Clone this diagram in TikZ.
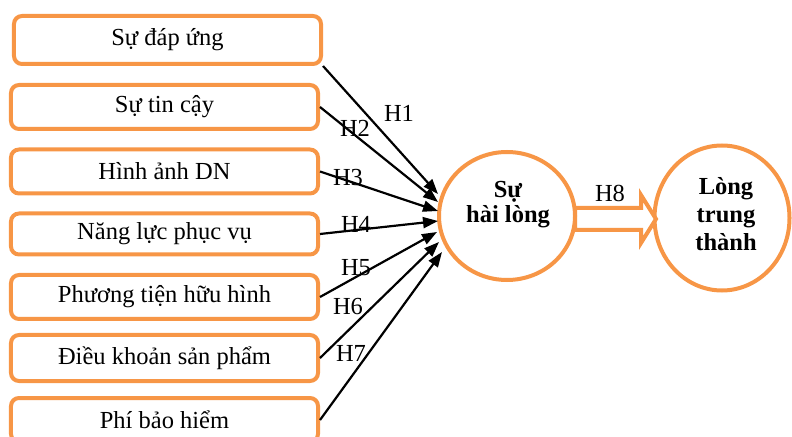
\documentclass[tikz,border=0pt]{standalone}
\usepackage{fontspec}
\setmainfont{Liberation Serif}
\usetikzlibrary{arrows.meta,shapes.geometric,calc}
\definecolor{boxorange}{HTML}{F79646}
\begin{document}
\begin{tikzpicture}[x=1bp,y=-1bp,
  factor/.style={draw=boxorange,line width=4bp,rounded corners=8bp,fill=white,
    minimum width=307bp,minimum height=44bp,inner sep=0pt,
    font=\fontsize{24.5bp}{28bp}\selectfont},
  hyp/.style={inner sep=0pt,font=\fontsize{24.5bp}{28bp}\selectfont},
  bubble/.style={draw=boxorange,line width=4bp,ellipse,inner sep=0pt},
  bubbletext/.style={inner sep=0pt,align=center,font=\fontsize{24.5bp}{#1}\selectfont\bfseries},
  link/.style={line width=2.2bp,-{Triangle[length=15bp,width=11bp]}}]
\useasboundingbox (0,0) rectangle (792,437);
% factor boxes
\node[factor,minimum width=307bp,minimum height=48bp] (b1) at (167.5,40) {Sự đáp ứng};
\node[factor] (b2) at (164.5,107) {Sự tin cậy};
\node[factor] (b3) at (164.5,171.5) {Hình ảnh DN};
\node[factor,minimum height=41bp] (b4) at (164.5,234) {Năng lực phục vụ};
\node[factor] (b5) at (164.5,297) {Phương tiện hữu hình};
\node[factor,minimum height=46bp] (b6) at (164.5,358) {Điều khoản sản phẩm};
\node[factor] (b7) at (164.5,420) {Phí bảo hiểm};
% outcome circles
\node[bubble,minimum width=135bp,minimum height=145bp] (loy) at (722,218) {};
\node[bubbletext=28bp] (loytext) at (726,214) {Lòng\\trung\\thành};
% H8 hollow arrow
\coordinate (h8s) at (575,219);
\coordinate (h8e) at (656,219);
\draw[draw=boxorange,line width=4bp,fill=white,line join=miter]
  ($(h8s)+(0,-11)$) -- ($(h8e)+(-15,-11)$) -- ($(h8e)+(-15,-24)$) -- (h8e)
  -- ($(h8e)+(-15,24)$) -- ($(h8e)+(-15,11)$) -- ($(h8s)+(0,11)$) -- cycle;
\node[bubble,fill=white,minimum width=136bp,minimum height=128bp] (sat) at (507,216) {};
\node[bubbletext=25bp] (sattext) at (508,205) {Sự\\hài lòng};
% arrow ends
\coordinate (e1) at (438,194);
\coordinate (e2) at (438,202);
\coordinate (e3) at (438,211);
\coordinate (e4) at (438,221);
\coordinate (e5) at (437,232);
\coordinate (e6) at (439,242);
\coordinate (e7) at (442,252);
\draw[link] (b1.south east) -- (e1);
\draw[link] (b2.east) -- (e2);
\draw[link] (b3.east) -- (e3);
\draw[link] (b4.east) -- (e4);
\draw[link] (b5.east) -- (e5);
\draw[link] (b6.east) -- (e6);
\draw[link] (b7.east) -- (e7);
% labels
\node[hyp] (l1) at (399,113) {H1};
\node[hyp] (l2) at (355,128) {H2};
\node[hyp] (l3) at (348,178) {H3};
\node[hyp] (l4) at (356,224) {H4};
\node[hyp] (l5) at (356,268) {H5};
\node[hyp] (l6) at (348,307) {H6};
\node[hyp] (l7) at (351,353) {H7};
\node[hyp] (l8) at (610,193) {H8};
\end{tikzpicture}
\end{document}
